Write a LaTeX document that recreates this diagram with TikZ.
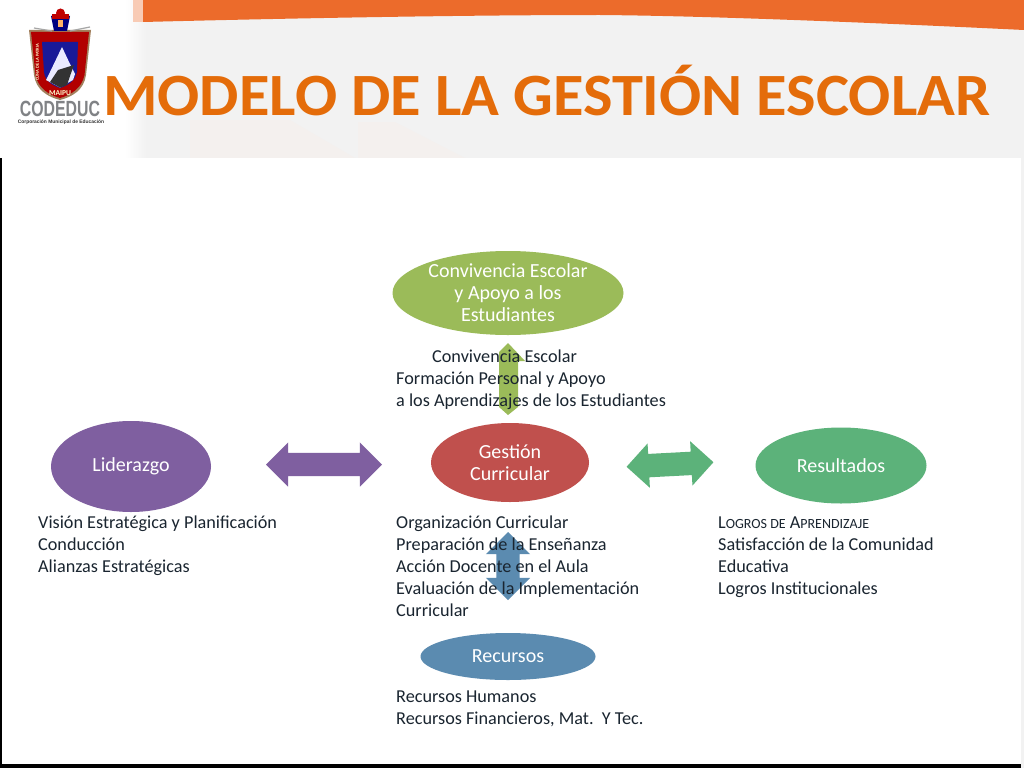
\documentclass[tikz,border=0pt]{standalone}
\usepackage{fontspec}
\setmainfont{Carlito}
\usetikzlibrary{shapes.geometric,shapes.arrows}
\definecolor{orangeband}{HTML}{EC6B2B}
\definecolor{titleor}{HTML}{E46C0A}
\definecolor{panelgray}{HTML}{F2F2F2}
\definecolor{faintpink}{HTML}{F4F0EE}
\definecolor{ellgreen}{HTML}{9BBB59}
\definecolor{ellred}{HTML}{C0504D}
\definecolor{ellpurple}{HTML}{7F5FA0}
\definecolor{ellteal}{HTML}{5CB27A}
\definecolor{ellblue}{HTML}{5B8BB0}
\definecolor{bodytext}{HTML}{1A2530}
\definecolor{logogray}{HTML}{808285}
\tikzset{
  ell/.style={ellipse,inner sep=0pt,text=white,align=center,font=\fontsize{20}{22}\selectfont},
  body/.style={anchor=north west,inner sep=0pt,align=left,text=bodytext,font=\fontsize{18.2}{22}\selectfont},
  blockarrow/.style={double arrow,inner xsep=0pt,inner ysep=11.5pt,double arrow head extend=10.5pt,minimum height=#1},
}
\newcommand{\smallcapsrun}[1]{{\fontsize{14}{22}\selectfont #1}}
\begin{document}
\begin{tikzpicture}[x=1pt,y=-1pt]
\useasboundingbox (0,0) rectangle (1024,768);
\fill[white] (0,0) rectangle (1024,768);
% header
\fill[panelgray] (145,0) rectangle (1024,158);
\shade[left color=white,right color=panelgray] (125,0) rectangle (146,158);
\fill[faintpink] (190,120) -- (290,120) -- (355,158) -- (190,158) -- cycle;
\fill[faintpink] (358,122) -- (395,122) -- (465,158) -- (358,158) -- cycle;
\fill[orangeband!35!white] (133,0) rectangle (143,22);
\fill[orangeband] (143,0) -- (1024,0) -- (1024,30) .. controls (900,24) and (720,16) .. (600,15) .. controls (450,15) and (260,19) .. (143,22) -- cycle;
\fill[white] (0,158) rectangle (1021,768);
\fill[panelgray] (1021,158) rectangle (1024,768);
\fill[black] (0,158) rectangle (2.3,768);
\fill[black] (0,763.5) rectangle (1021,768);
% logo
\fill[brown!55!gray] (29,30) -- (91,30) -- (86,75) .. controls (84,90) and (72,97) .. (60,100) .. controls (48,97) and (36,90) .. (34,75) -- cycle;
\fill[red!70!black] (31,32) -- (89,32) -- (84.5,75) .. controls (82,88) and (71,95) .. (60,98) .. controls (49,95) and (38,88) .. (35.5,75) -- cycle;
\fill[blue!55!black!90!white] (42,42) -- (78,42) -- (77,72) .. controls (75,82) and (66,86) .. (60,88) .. controls (54,86) and (45,82) .. (44,72) -- cycle;
\fill[white!92!blue] (62,47) -- (70,64) -- (75,74) -- (73,80) -- (60,87.5) -- (46,80) -- (50,72) -- cycle;
\fill[black!80] (50,82) -- (58,70) -- (74,65) -- (70,76) -- (67,85) -- (60,87.5) -- cycle;
\fill[blue!50!black] (51,16) -- (70,16) -- (67,31) -- (54,31) -- cycle;
\fill[red!75!black] (60.5,13) circle (4.5);
\fill[red!75!black] (52,14) rectangle (69,19);
\fill[orange!60!white] (58,20) rectangle (63,27);
\draw[gray!70,line width=1.2pt] (34,28) -- (52,31);
\draw[gray!70,line width=1.2pt] (90,27) -- (70,31);
\node[inner sep=0pt,text=white!80!yellow,font=\fontsize{7.5}{7.5}\selectfont\bfseries] (maipu) at (60,93.5) {MAIPU};
\node[inner sep=0pt,rotate=90,text=white!80!yellow,font=\fontsize{4.5}{4.5}\selectfont\bfseries] (cuna) at (37.5,62) {CUNA DE LA PATRIA};
\node[inner sep=0pt,text=logogray,xscale=.72,font=\fontsize{22}{22}\fontspec{Liberation Sans}\bfseries] (codeduc) at (60,109) {CODEDUC};
\node[inner sep=0pt,text=black!80,font=\fontsize{5}{5}\fontspec{Liberation Sans}\bfseries,xscale=.98] (corp) at (61,122) {Corporación Municipal de Educación};
% title
\node[anchor=base west,inner sep=0pt,text=titleor,xscale=1.04,font=\fontsize{60}{60}\selectfont\bfseries] (title) at (103,115) {MODELO DE LA GESTIÓN ESCOLAR};
% arrows
\fill[ellgreen] (508,343) -- (499,352) -- (499,407) -- (508,415) -- (518,407) -- (518,361) -- (525,361) -- cycle;
\node[blockarrow=68,fill=ellblue,rotate=90] (arrowbot) at (508,566) {};
\node[blockarrow=116,fill=ellpurple] (arrowleft) at (324,464.5) {};
\node[blockarrow=87,fill=ellteal,rotate=3] (arrowright) at (670,464.5) {};
% ellipses
\node[ell,fill=ellgreen,minimum width=231,minimum height=84] (conv) at (508,293) {Convivencia Escolar\\y Apoyo a los\\Estudiantes};
\node[ell,fill=ellred,minimum width=158,minimum height=79] (gest) at (510,462.5) {Gestión\\Curricular};
\node[ell,fill=ellpurple,minimum width=160,minimum height=91] (lider) at (131,466.5) {\raisebox{-1.5pt}{Liderazgo}};
\node[ell,fill=ellteal,minimum width=171,minimum height=76] (res) at (841,465.5) {\raisebox{-1pt}{Resultados}};
\node[ell,fill=ellblue,minimum width=175,minimum height=47] (rec) at (508,656.5) {Recursos};
% body text
\node[body] (t1) at (396,350) {\hspace*{36pt}Convivencia Escolar\\Formación Personal y Apoyo\\a los Aprendizajes de los Estudiantes};
\node[body] (t2) at (38,516) {Visión Estratégica y Planificación\\Conducción\\Alianzas Estratégicas};
\node[body] (t3) at (396,516) {Organización Curricular\\Preparación de la Enseñanza\\Acción Docente en el Aula\\Evaluación de la Implementación\\Curricular};
\node[body] (t4) at (718,517) {L\smallcapsrun{OGROS DE} A\smallcapsrun{PRENDIZAJE}\\Satisfacción de la Comunidad\\Educativa\\Logros Institucionales};
\node[body] (t5) at (396,691) {Recursos Humanos\\Recursos Financieros, Mat.\ \ Y Tec.};
\end{tikzpicture}
\end{document}
